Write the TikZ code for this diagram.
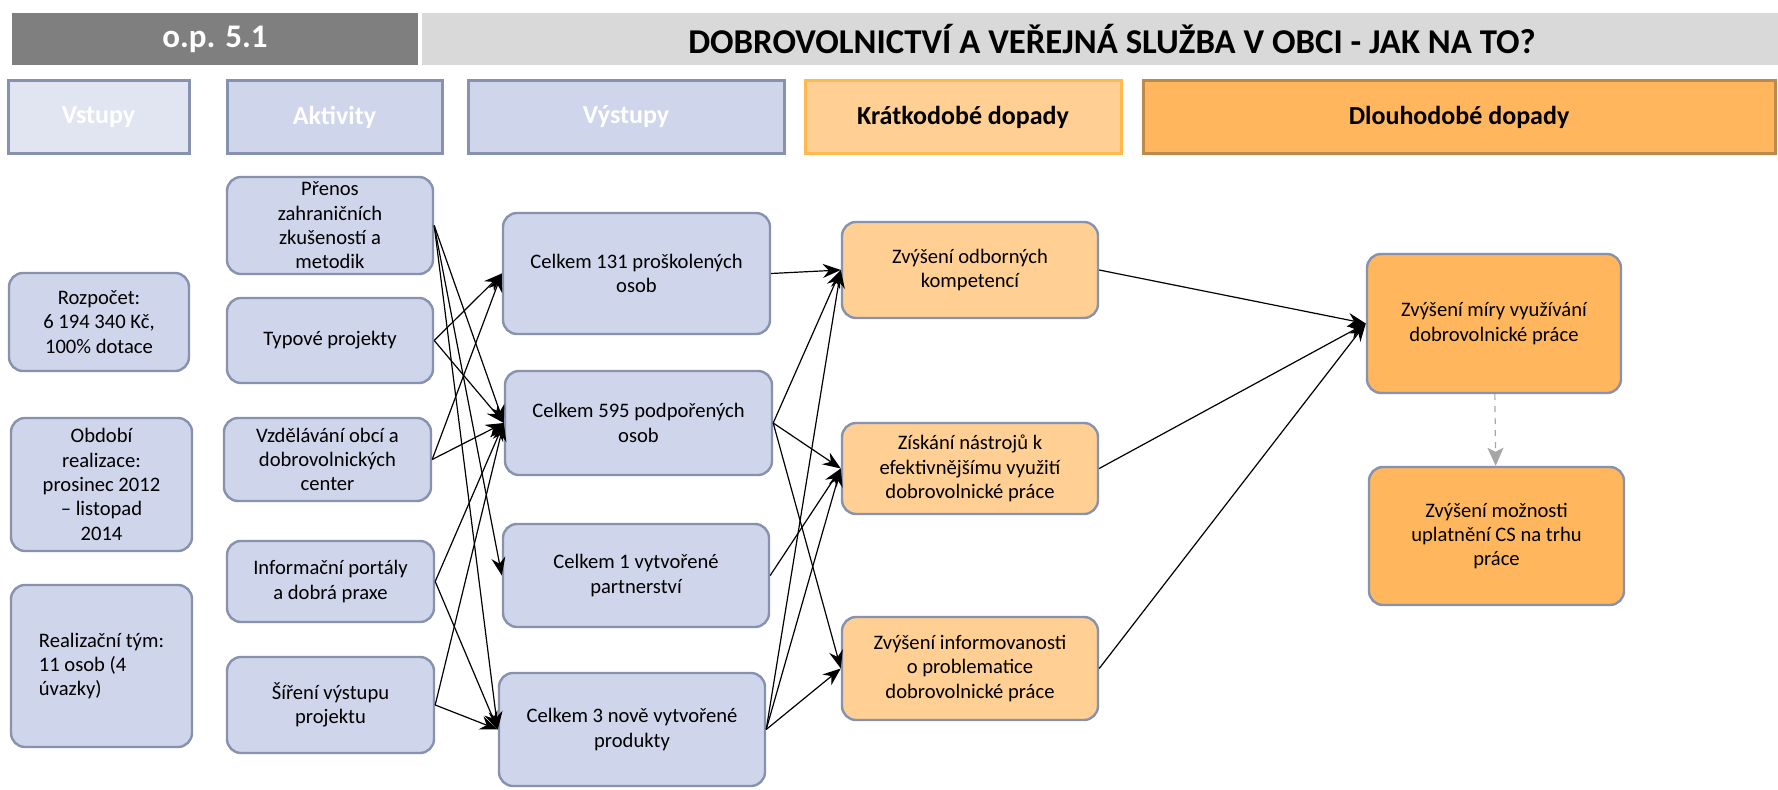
\documentclass[tikz,border=0pt]{standalone}
\usepackage{fontspec}
\setmainfont{Carlito}
\usepackage{tikz}
\usetikzlibrary{arrows.meta}

\definecolor{boxblue}{HTML}{CFD5EA}
\definecolor{boxpale}{HTML}{E1E5F2}
\definecolor{boxline}{HTML}{8792AF}
\definecolor{lightor}{HTML}{FFCF93}
\definecolor{darkor}{HTML}{FFB65C}
\definecolor{orline}{HTML}{FFB94F}
\definecolor{brline}{HTML}{BE8A4B}
\definecolor{bardark}{HTML}{7F7F7F}
\definecolor{barlight}{HTML}{D9D9D9}
\definecolor{dashgray}{HTML}{A6A6A6}

\begin{document}
\begin{tikzpicture}[x=0.5pt,y=-0.5pt,->,>={Stealth[length=9pt,width=7pt,inset=3pt]},
                    semithick,
	wh/.style 2 args={minimum width=#1*0.5pt,minimum height=#2*0.5pt},
	item/.style={draw=boxline,line width=1.2pt,rounded corners=7pt,fill=boxblue,
	             align=center,inner sep=2pt,font=\fontsize{10.3}{12.2}\selectfont},
	short/.style={item,fill=lightor},
	long/.style={item,fill=darkor},
	head/.style={draw=boxline,line width=1.5pt,fill=boxblue,text=white,
	             font=\fontsize{13}{15}\selectfont\bfseries}]
	\path[use as bounding box,-] (0,0) rectangle (1778,790);

	% title bars
	\node[fill=bardark,text=white,inner sep=0pt,wh={406}{52},
	      font=\fontsize{16.5}{18}\selectfont\bfseries]		(t0)	at (215,39)		{o.p. 5.1};
	\node[fill=barlight,inner sep=0pt,wh={1380}{52},
	      font=\fontsize{17.4}{19}\selectfont\bfseries]		(t1)	at (1112,39)	{DOBROVOLNICTVÍ A VEŘEJNÁ SLUŽBA V OBCI - JAK NA TO?};

	% column heads
	\node[head,fill=boxpale,wh={181}{73}]					(h1)	at (98.5,117)		{Vstupy};
	\node[head,wh={215}{73}]							(h2)	at (334.5,117)		{Aktivity};
	\node[head,wh={316}{73}]							(h3)	at (626,117)		{Výstupy};
	\node[head,fill=lightor,draw=orline,text=black,wh={316}{73}]	(h4)	at (963,117)		{Krátkodobé dopady};
	\node[head,fill=darkor,draw=brline,text=black,wh={632}{73}]	(h5)	at (1459,117)		{Dlouhodobé dopady};

	% inputs
	\node[item,wh={180}{98}]			(v1)	at (99,322)		{Rozpočet:\\6 194 340 Kč,\\100\% dotace};
	\node[item,wh={181}{133}]			(v2)	at (101.5,484.5)	{Období\\realizace:\\prosinec 2012\\– listopad\\2014};
	\node[item,align=left,wh={181}{162}]	(v3)	at (101.5,666)	{Realizační tým:\\11 osob (4\\úvazky)};

	% activities
	\node[item,wh={206}{97}]		(a1)	at (330,225.5)		{Přenos\\zahraničních\\zkušeností a\\metodik};
	\node[item,wh={206}{85}]		(a2)	at (330,340.5)		{Typové projekty};
	\node[item,wh={207}{83}]		(a3)	at (327.5,459.5)	{Vzdělávání obcí a\\dobrovolnických\\center};
	\node[item,wh={207}{81}]		(a4)	at (330.5,581.5)	{Informační portály\\a dobrá praxe};
	\node[item,wh={207}{96}]		(a5)	at (330.5,705)		{Šíření výstupu\\projektu};

	% outputs
	\node[item,wh={267}{121}]		(o1)	at (636.5,273.5)	{Celkem 131 proškolených\\osob};
	\node[item,wh={267}{104}]		(o2)	at (638.5,423)		{Celkem 595 podpořených\\osob};
	\node[item,wh={266}{103}]		(o3)	at (636,575.5)		{Celkem 1 vytvořené\\partnerství};
	\node[item,wh={266}{113}]		(o4)	at (632,729.5)		{Celkem 3 nově vytvořené\\produkty};

	% short term
	\node[short,wh={256}{96}]		(k1)	at (970,270)		{Zvýšení odborných\\kompetencí};
	\node[short,wh={256}{91}]		(k2)	at (970,468.5)		{Získání nástrojů k\\efektivnějšímu využití\\dobrovolnické práce};
	\node[short,wh={256}{103}]		(k3)	at (970,668.5)		{Zvýšení informovanosti\\o problematice\\dobrovolnické práce};

	% long term
	\node[long,wh={254}{139}]		(d1)	at (1494,323.5)		{Zvýšení míry využívání\\dobrovolnické práce};
	\node[long,wh={255}{138}]		(d2)	at (1496.5,536)		{Zvýšení možnosti\\uplatnění CS na trhu\\práce};

	\path	(a1.east)	edge	(o2.west)
					edge	(o3.west)
					edge	(o4.west)
			(a2.east)	edge	(o1.west)
					edge	(o2.west)
			(a3.east)	edge	(o1.west)
					edge	(o2.west)
			(a4.east)	edge	(o2.west)
					edge	(o4.west)
			(a5.east)	edge	(o2.west)
					edge	(o4.west);

	\path	(o1.east)	edge	(k1.west)
			(o2.east)	edge	(k1.west)
					edge	(k2.west)
					edge	(k3.west)
			(o3.east)	edge	(k2.west)
			(o4.east)	edge	(k1.west)
					edge	(k2.west)
					edge	(k3.west);

	\path	(k1.east)	edge	(d1.west)
			(k2.east)	edge	(d1.west)
			(k3.east)	edge	(d1.west);

	\draw[dashgray,dashed,>={Stealth[length=9pt,width=8pt,inset=2pt]}] (d1) -- (d2);

\end{tikzpicture}
\end{document}
